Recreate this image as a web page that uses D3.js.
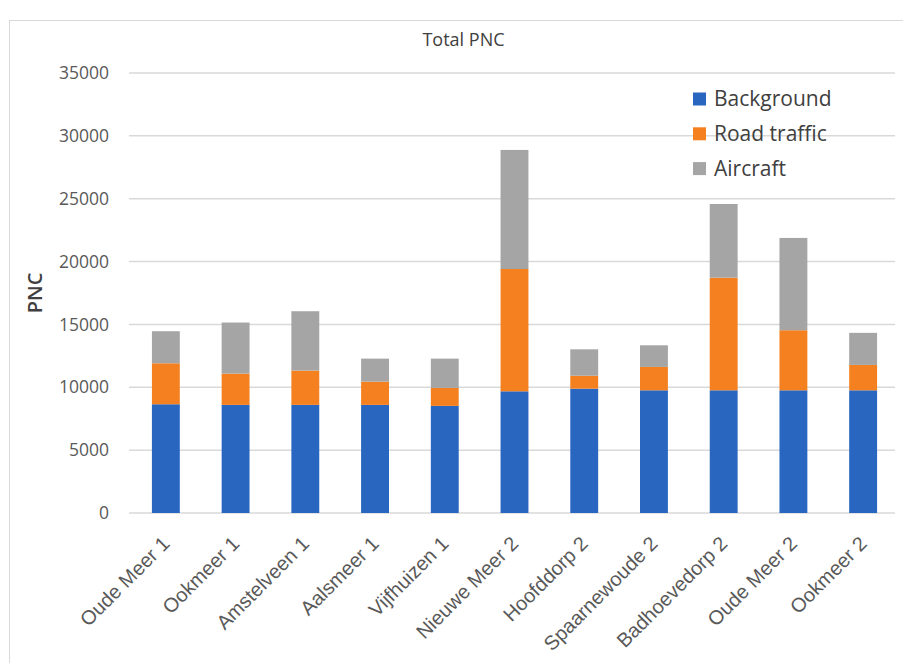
<!DOCTYPE html>
<html>
<head>
<meta charset="utf-8">
<script src="https://cdn.jsdelivr.net/npm/d3@7/dist/d3.min.js"></script>
<style>
  html, body { margin: 0; padding: 0; background: #ffffff; }
  svg { display: block; font-family: "Open Sans", "Noto Sans", sans-serif; }
</style>
</head>
<body>
<svg id="chart" width="903" height="663"></svg>
<script>
// Measurement sites
const sites = ["Oude Meer 1", "Ookmeer 1", "Amstelveen 1", "Aalsmeer 1", "Vijfhuizen 1",
  "Nieuwe Meer 2", "Hoofddorp 2", "Spaarnewoude 2", "Badhoevedorp 2", "Oude Meer 2", "Ookmeer 2"];

// Particle number concentration contributions per source
const background = [8650, 8600, 8600, 8600, 8520, 9680, 9890, 9760, 9760, 9760, 9760];
const roadTraffic = [3260, 2490, 2730, 1850, 1430, 9730, 1030, 1860, 8960, 4780, 2020];
const aircraft = [2550, 4060, 4720, 1830, 2330, 9470, 2100, 1720, 5860, 7340, 2550];

const seriesNames = ["Background", "Road traffic", "Aircraft"];
const seriesColors = ["#2866c0", "#f58020", "#a5a5a5"];
const yTicks = [0, 5000, 10000, 15000, 20000, 25000, 30000, 35000];

const table = sites.map((s, i) => ({
  site: s,
  "Background": background[i],
  "Road traffic": roadTraffic[i],
  "Aircraft": aircraft[i]
}));

const svg = d3.select("#chart");
const plot = { left: 131, right: 898, top: 73, bottom: 513 };

// Chart frame
svg.append("rect")
  .attr("x", 9.5).attr("y", 20.5)
  .attr("width", 1000).attr("height", 1000)
  .attr("fill", "none").attr("stroke", "#d9d9d9").attr("stroke-width", 1);

const x = d3.scaleBand().domain(sites).range([plot.left, plot.right]).paddingInner(0.6).paddingOuter(0.3);
const y = d3.scaleLinear().domain([0, 35000]).range([plot.bottom, plot.top]);

// Horizontal gridlines
svg.append("g")
  .selectAll("line")
  .data(yTicks)
  .join("line")
  .attr("x1", 129).attr("x2", 895)
  .attr("y1", d => y(d)).attr("y2", d => y(d))
  .attr("stroke", "#d9d9d9").attr("stroke-width", 1.5);

// Y axis tick labels
const yAxis = d3.axisLeft(y).tickValues(yTicks).tickSize(0).tickPadding(0).tickFormat(d3.format("d"));
const gy = svg.append("g").attr("transform", "translate(109,0)").call(yAxis);
gy.select(".domain").remove();
gy.selectAll("text")
  .attr("font-size", 17.5).attr("fill", "#595959")
  .attr("font-family", "'Open Sans', sans-serif");

// Stacked bars
const stack = d3.stack().keys(seriesNames);
const layers = stack(table);
svg.append("g")
  .selectAll("g")
  .data(layers)
  .join("g")
  .attr("fill", (d, i) => seriesColors[i])
  .selectAll("rect")
  .data(d => d)
  .join("rect")
  .attr("x", d => x(d.data.site))
  .attr("width", x.bandwidth())
  .attr("y", d => y(d[1]))
  .attr("height", d => y(d[0]) - y(d[1]));

// X axis category labels, rotated
const xAxis = d3.axisBottom(x).tickSize(0).tickPadding(0);
const gx = svg.append("g").attr("transform", `translate(0,${plot.bottom})`).call(xAxis);
gx.select(".domain").remove();
gx.selectAll("text")
  .attr("font-size", 20).attr("fill", "#595959")
  .attr("text-anchor", "end")
  .attr("y", 0)
  .attr("dy", 0)
  .attr("transform", "translate(5,32) rotate(-45)");

// Title
svg.append("text")
  .attr("x", 463.5).attr("y", 46)
  .attr("text-anchor", "middle")
  .attr("font-size", 18).attr("fill", "#404040")
  .text("Total PNC");

// Y axis title
svg.append("text")
  .attr("transform", "translate(42,293) rotate(-90)")
  .attr("text-anchor", "middle")
  .attr("font-size", 20).attr("font-weight", 600).attr("fill", "#404040")
  .text("PNC");

// Legend
const legend = svg.append("g").attr("transform", "translate(693,99)");
const items = legend.selectAll("g")
  .data(seriesNames)
  .join("g")
  .attr("transform", (d, i) => `translate(0,${i * 34.8})`);
items.append("rect")
  .attr("x", 0).attr("y", -6.5)
  .attr("width", 13).attr("height", 13)
  .attr("fill", (d, i) => seriesColors[i]);
items.append("text")
  .attr("x", 21).attr("y", 0).attr("dy", "0.35em")
  .attr("font-size", 21).attr("fill", "#404040")
  .text(d => d);
</script>
</body>
</html>
